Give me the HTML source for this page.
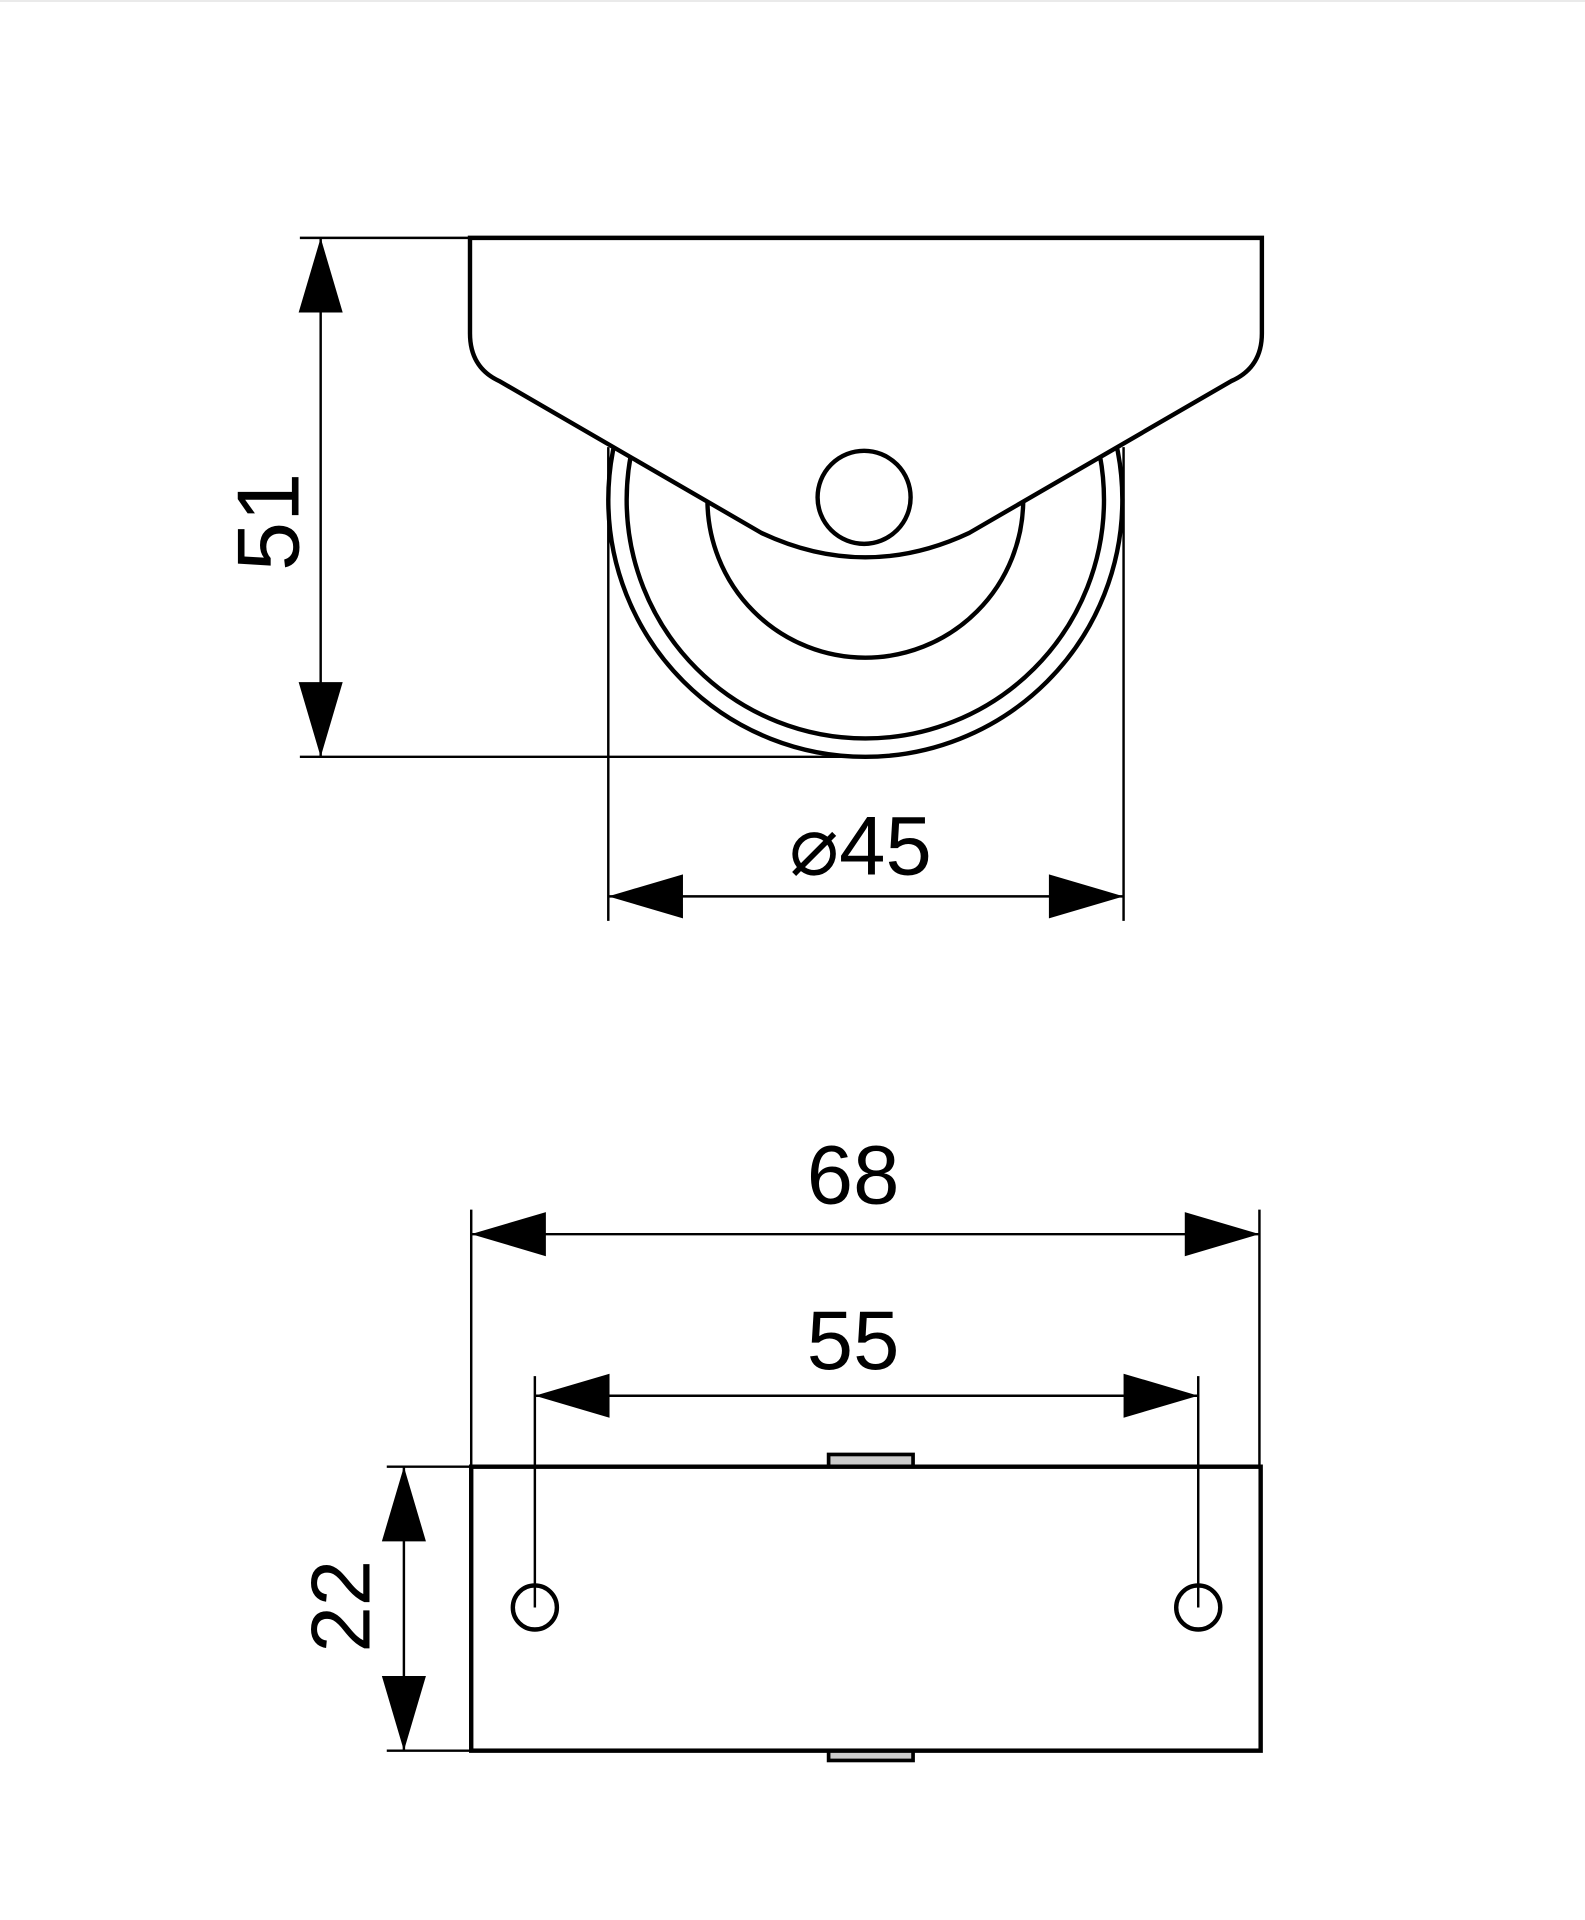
<!DOCTYPE html>
<html><head><meta charset="utf-8"><style>html,body{margin:0;padding:0;background:#fff}svg{display:block}</style></head>
<body>
<svg width="1585" height="1920" viewBox="0 0 1295 1568" xmlns="http://www.w3.org/2000/svg" font-family="Liberation Sans, sans-serif">
<rect width="1295" height="1568" fill="#fff"/>
<line x1="0" y1="0.5" x2="1295" y2="0.5" stroke="#ddd" stroke-width="1"/>
<g fill="none" stroke="#000" stroke-width="3.6">
  <circle cx="707" cy="408" r="210"/>
  <circle cx="707" cy="408" r="195"/>
  <circle cx="707" cy="408" r="129"/>
  <path d="M384,194 L1031,194 L1031,272 Q1031,300 1006,311 L792,435 Q707,475 622,435 L408,311 Q384,300 384,272 Z" fill="#fff"/>
  <circle cx="706" cy="406" r="38"/>
</g>
<g stroke="#000" stroke-width="2" fill="none">
  <line x1="245" y1="194" x2="384" y2="194"/>
  <line x1="245" y1="618" x2="707" y2="618"/>
  <line x1="262" y1="194" x2="262" y2="618"/>
  <line x1="497" y1="365" x2="497" y2="752"/>
  <line x1="918" y1="365" x2="918" y2="752"/>
  <line x1="497" y1="732" x2="918" y2="732"/>
</g>
<g fill="#000">
  <polygon points="262,194 244,255 280,255"/>
  <polygon points="262,618 244,557 280,557"/>
  <polygon points="497,732 558,714 558,750"/>
  <polygon points="918,732 857,714 857,750"/>
</g>
<text x="0" y="0" font-size="72" transform="translate(244,426) rotate(-90)" text-anchor="middle">51</text>
<text x="703" y="714" font-size="68" text-anchor="middle">⌀45</text>

<g fill="none" stroke="#000" stroke-width="3.6">
  <rect x="677" y="1188" width="69" height="10" stroke-width="3" fill="#ccc"/>
  <rect x="677" y="1430" width="69" height="8" stroke-width="3" fill="#ccc"/>
  <rect x="385" y="1198" width="645" height="232" fill="none"/>
  <circle cx="437" cy="1313" r="18"/>
  <circle cx="979" cy="1313" r="18"/>
</g>
<g stroke="#000" stroke-width="2" fill="none">
  <line x1="385" y1="988" x2="385" y2="1198"/>
  <line x1="1029" y1="988" x2="1029" y2="1198"/>
  <line x1="385" y1="1008" x2="1029" y2="1008"/>
  <line x1="437" y1="1124" x2="437" y2="1313"/>
  <line x1="979" y1="1124" x2="979" y2="1313"/>
  <line x1="437" y1="1140" x2="979" y2="1140"/>
  <line x1="316" y1="1198" x2="385" y2="1198"/>
  <line x1="316" y1="1430" x2="385" y2="1430"/>
  <line x1="330" y1="1198" x2="330" y2="1430"/>
</g>
<g fill="#000">
  <polygon points="385,1008 446,990 446,1026"/>
  <polygon points="1029,1008 968,990 968,1026"/>
  <polygon points="437,1140 498,1122 498,1158"/>
  <polygon points="979,1140 918,1122 918,1158"/>
  <polygon points="330,1198 312,1259 348,1259"/>
  <polygon points="330,1430 312,1369 348,1369"/>
</g>
<text x="697" y="983" font-size="68" text-anchor="middle">68</text>
<text x="697" y="1118" font-size="68" text-anchor="middle">55</text>
<text x="0" y="0" font-size="68" transform="translate(302,1312) rotate(-90)" text-anchor="middle">22</text>
</svg>
</body></html>
